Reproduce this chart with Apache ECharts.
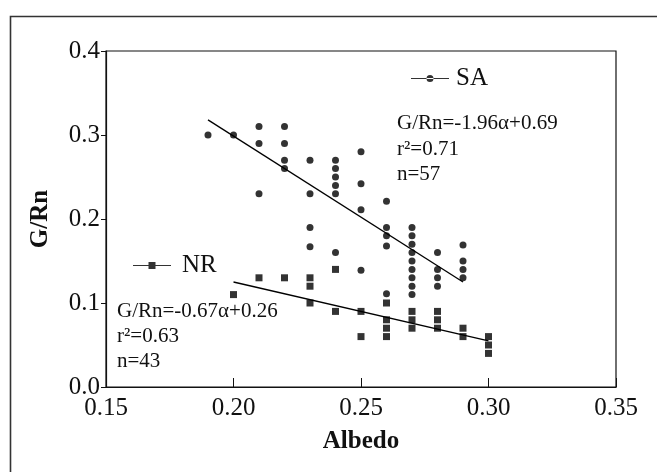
<!DOCTYPE html>
<html>
<head>
<meta charset="utf-8">
<script src="https://cdn.jsdelivr.net/npm/echarts@6/dist/echarts.min.js"></script>
<style>html,body{margin:0;padding:0;background:#fff}#c{width:657px;height:472px}</style>
</head>
<body>
<div id="c"></div>
<script>
// SA (circles)
var saAlbedo = [0.19, 0.20, 0.21,0.21,0.21, 0.22,0.22,0.22,0.22, 0.23,0.23,0.23,0.23,
  0.24,0.24,0.24,0.24,0.24,0.24, 0.25,0.25,0.25,0.25, 0.26,0.26,0.26,0.26,0.26,
  0.27,0.27,0.27,0.27,0.27,0.27,0.27,0.27,0.27, 0.28,0.28,0.28,0.28, 0.29,0.29,0.29,0.29];
var saGRn = [0.30, 0.30, 0.31,0.29,0.23, 0.31,0.29,0.27,0.26, 0.27,0.23,0.19,0.167,
  0.27,0.26,0.25,0.24,0.23,0.16, 0.28,0.242,0.211,0.139, 0.221,0.19,0.18,0.168,0.111,
  0.19,0.18,0.17,0.16,0.15,0.14,0.13,0.12,0.11, 0.16,0.14,0.13,0.12, 0.169,0.15,0.14,0.13];
// NR (squares)
var nrAlbedo = [0.20, 0.21, 0.22, 0.23,0.23,0.23, 0.24,0.24, 0.25,0.25, 0.26,0.26,0.26,0.26,
  0.27,0.27,0.27, 0.28,0.28,0.28, 0.29,0.29, 0.30,0.30,0.30];
var nrGRn = [0.11, 0.13, 0.13, 0.13,0.12,0.10, 0.14,0.09, 0.09,0.06, 0.10,0.08,0.07,0.06,
  0.09,0.08,0.07, 0.09,0.08,0.07, 0.07,0.06, 0.06,0.05,0.04];
// fitted line endpoints
var saFitX = [0.19, 0.29], saFitY = [0.318, 0.125];
var nrFitX = [0.20, 0.30], nrFitY = [0.125, 0.055];
var xTicks = [0.15, 0.20, 0.25, 0.30, 0.35];
var yTicks = [0.0, 0.1, 0.2, 0.3, 0.4];
var saText = ['G/Rn=-1.96\u03b1+0.69', 'r\u00b2=0.71', 'n=57'];
var nrText = ['G/Rn=-0.67\u03b1+0.26', 'r\u00b2=0.63', 'n=43'];

function zip(a, b) { return a.map(function (v, i) { return [v, b[i]]; }); }
var F = '"Liberation Serif", "Times New Roman", serif';

var chart = echarts.init(document.getElementById('c'));
var gfx = [{
  type: 'rect', left: 8, top: 14, shape: { width: 700, height: 500 },
  style: { fill: 'none', stroke: '#333', lineWidth: 1.6 }, silent: true
}];
saText.forEach(function (t, i) {
  gfx.push({ type: 'text', left: 397, top: 124 + i * 25.5 - 11,
    style: { text: t, font: '21px ' + F, fill: '#111' } });
});
nrText.forEach(function (t, i) {
  gfx.push({ type: 'text', left: 117, top: 312 + i * 25 - 11,
    style: { text: t, font: '21px ' + F, fill: '#111' } });
});

var saIcon = 'path://M0,3.5 L38,3.5 L38,4.5 L0,4.5 Z M15.5,4 A3.5,3.5 0 1,0 22.5,4 A3.5,3.5 0 1,0 15.5,4 Z';
var nrIcon = 'path://M0,3.5 L38,3.5 L38,4.5 L0,4.5 Z M15.5,0.5 L22.5,0.5 L22.5,7.5 L15.5,7.5 Z';

chart.setOption({
  animation: false,
  backgroundColor: '#fff',
  textStyle: { fontFamily: F },
  graphic: gfx,
  grid: { left: 106, top: 51, width: 510, height: 336, show: true, borderColor: '#111', borderWidth: 1.2 },
  legend: [
    { data: [{ name: 'SA', icon: saIcon }], left: 406, top: 61, itemWidth: 38, itemHeight: 8,
      textStyle: { fontSize: 25, fontFamily: F, color: '#111', padding: [0, 0, 0, 2] }, selectedMode: false },
    { data: [{ name: 'NR', icon: nrIcon }], left: 128, top: 248, itemWidth: 38, itemHeight: 8,
      textStyle: { fontSize: 25, fontFamily: F, color: '#111', padding: [0, 0, 0, 6] }, selectedMode: false }
  ],
  xAxis: {
    type: 'value', min: xTicks[0], max: xTicks[xTicks.length - 1], interval: 0.05,
    name: 'Albedo', nameLocation: 'middle', nameGap: 42,
    nameTextStyle: { fontSize: 25, fontWeight: 'bold', fontFamily: F, color: '#111' },
    axisLine: { lineStyle: { color: '#111', width: 1.2 } },
    axisTick: { inside: true, length: 9, lineStyle: { color: '#111' } },
    axisLabel: { fontSize: 25, fontFamily: F, color: '#111', margin: 9,
      formatter: function (v) { return v.toFixed(2); } },
    splitLine: { show: false }
  },
  yAxis: {
    type: 'value', min: yTicks[0], max: yTicks[yTicks.length - 1], interval: 0.1,
    name: 'G/Rn', nameLocation: 'middle', nameGap: 53,
    nameTextStyle: { fontSize: 25, fontWeight: 'bold', fontFamily: F, color: '#111' },
    axisLine: { lineStyle: { color: '#111', width: 1.2 } },
    axisTick: { inside: false, length: 5, lineStyle: { color: '#111' } },
    axisLabel: { fontSize: 25, fontFamily: F, color: '#111', margin: 6,
      formatter: function (v) { return v.toFixed(1); } },
    splitLine: { show: false }
  },
  series: [
    { name: 'SA', type: 'scatter', symbol: 'circle', symbolSize: 7,
      itemStyle: { color: '#000' }, data: zip(saAlbedo, saGRn) },
    { name: 'NR', type: 'scatter', symbol: 'rect', symbolSize: 7,
      itemStyle: { color: '#000' }, data: zip(nrAlbedo, nrGRn) },
    { name: 'SA fit', type: 'line', symbol: 'none', lineStyle: { color: '#000', width: 1.3 },
      data: zip(saFitX, saFitY) },
    { name: 'NR fit', type: 'line', symbol: 'none', lineStyle: { color: '#000', width: 1.3 },
      data: zip(nrFitX, nrFitY) }
  ]
});
</script>
</body>
</html>
